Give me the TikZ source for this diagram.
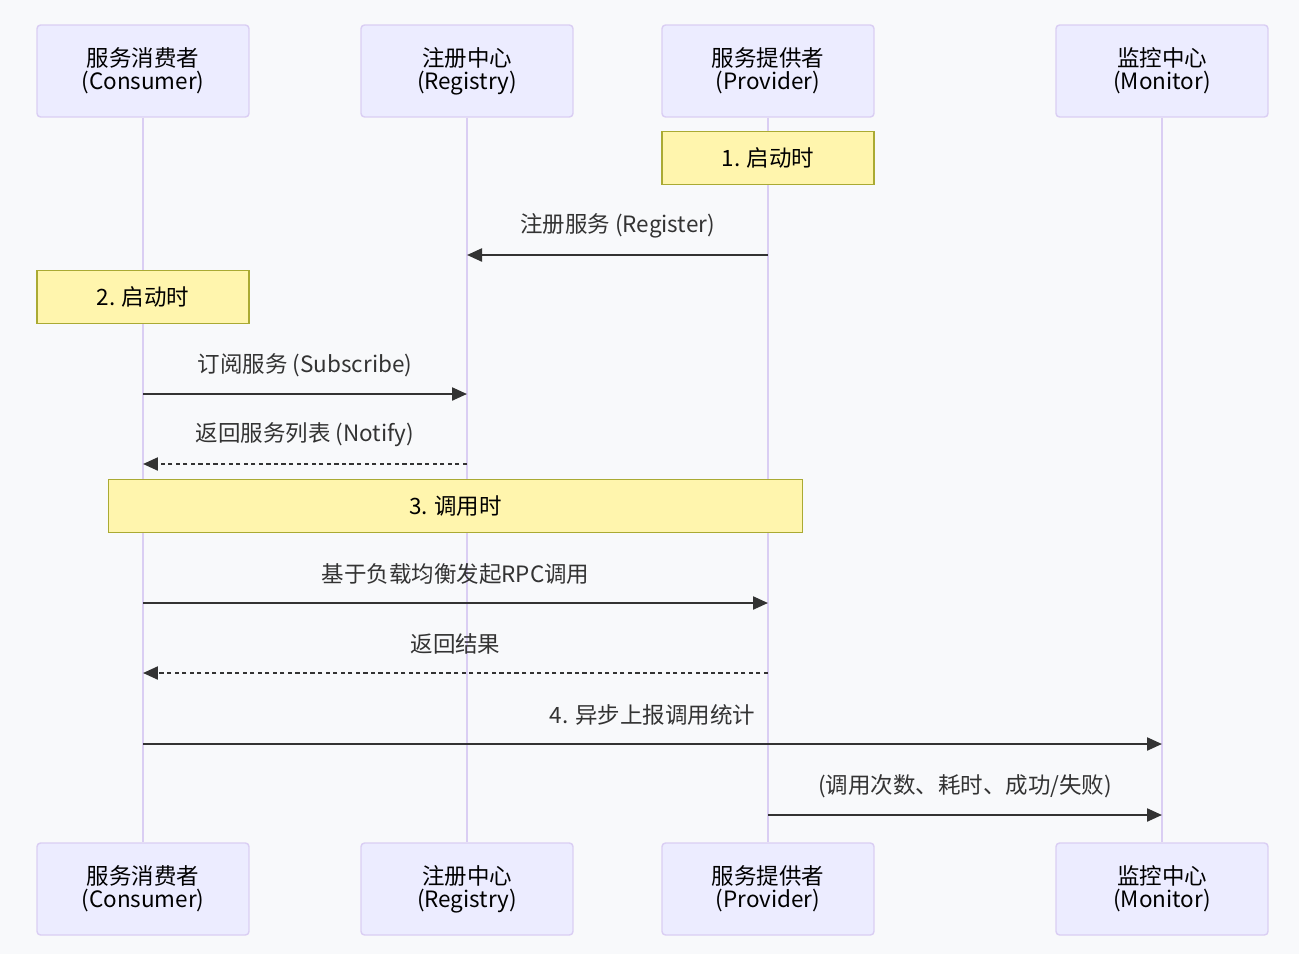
\documentclass[tikz,border=0pt]{standalone}
\usepackage{fontspec}
\setmainfont{Noto Sans CJK SC}
\usetikzlibrary{arrows.meta}

\definecolor{bgcol}{HTML}{F8F9FB}
\definecolor{actorfill}{HTML}{ECECFF}
\definecolor{actorline}{HTML}{DACEF3}
\definecolor{notefill}{HTML}{FFF5AD}
\definecolor{notedraw}{HTML}{AAAA33}
\definecolor{msgcol}{HTML}{333333}

\tikzset{
	every node/.style={font=\fontsize{12.8}{13.2}\selectfont},
	actor/.style={draw=actorline, fill=actorfill, rounded corners=2pt, line width=0.8pt,
		minimum width=4.24cm, minimum height=1.84cm, align=center, inner sep=0pt},
	lifeline/.style={draw=actorline, line width=1.5pt},
	note/.style={draw=notedraw, fill=notefill, line width=0.6pt, minimum height=1.06cm, inner sep=0pt},
	msg/.style={draw=msgcol, line width=1.3pt, -{Triangle[length=0.3cm,width=0.26cm]}},
	reply/.style={msg, dash pattern=on 2.4pt off 1.9pt},
	lbl/.style={text=msgcol, yshift=0.58cm}
}

\begin{document}
\begin{tikzpicture}[x=0.02cm, y=-0.02cm]
	\fill[bgcol] (0,0) rectangle (1299,954);
	\useasboundingbox (0,0) rectangle (1299,954);

	% actors, top and bottom
	\node[actor] (consT) at (143,71) {服务消费者\\(Consumer)};
	\node[actor] (regT)  at (467,71) {注册中心\\(Registry)};
	\node[actor] (provT) at (768,71) {服务提供者\\(Provider)};
	\node[actor] (monT)  at (1162,71) {监控中心\\(Monitor)};
	\node[actor] (consB) at (143,889) {服务消费者\\(Consumer)};
	\node[actor] (regB)  at (467,889) {注册中心\\(Registry)};
	\node[actor] (provB) at (768,889) {服务提供者\\(Provider)};
	\node[actor] (monB)  at (1162,889) {监控中心\\(Monitor)};

	\draw[lifeline] (consT) -- (consB);
	\draw[lifeline] (regT) -- (regB);
	\draw[lifeline] (provT) -- (provB);
	\draw[lifeline] (monT) -- (monB);

	% notes
	\node[note, minimum width=4.24cm] (note1) at (768,158) {1. 启动时};
	\node[note, minimum width=4.24cm] (note2) at (143,297) {2. 启动时};
	\node[note, minimum width=13.9cm] (note3) at (455.5,506) {3. 调用时};

	% message ends on the lifelines
	\coordinate (provA) at (768,255);  \coordinate (regA) at (467,255);
	\coordinate (consB1) at (143,394); \coordinate (regB1) at (467,394);
	\coordinate (regC) at (467,464);   \coordinate (consC) at (143,464);
	\coordinate (consD) at (143,603);  \coordinate (provD) at (768,603);
	\coordinate (provE) at (768,673);  \coordinate (consE) at (143,673);
	\coordinate (consF) at (143,744);  \coordinate (monF) at (1162,744);
	\coordinate (provG) at (768,815);  \coordinate (monG) at (1162,815);

	\draw[msg] (provA) -- node[lbl] {注册服务 (Register)} (regA);
	\draw[msg] (consB1) -- node[lbl] {订阅服务 (Subscribe)} (regB1);
	\draw[reply] (regC) -- node[lbl] {返回服务列表 (Notify)} (consC);
	\draw[msg] (consD) -- node[lbl] {基于负载均衡发起RPC调用} (provD);
	\draw[reply] (provE) -- node[lbl] {返回结果} (consE);
	\draw[msg] (consF) -- node[lbl] {4. 异步上报调用统计} (monF);
	\draw[msg] (provG) -- node[lbl] {(调用次数、耗时、成功/失败)} (monG);
\end{tikzpicture}
\end{document}
